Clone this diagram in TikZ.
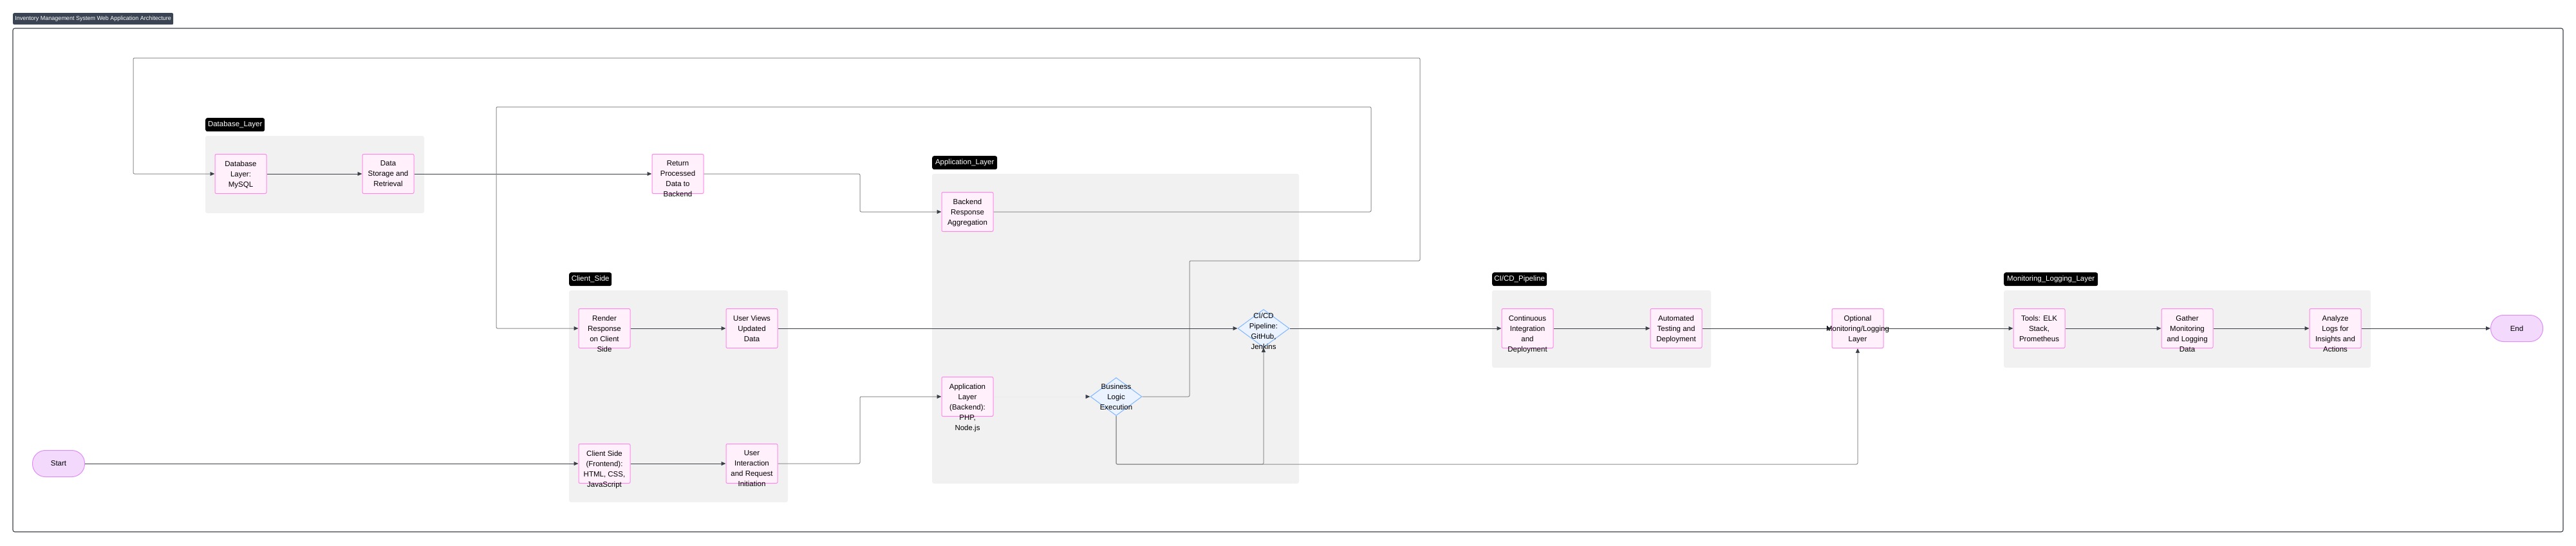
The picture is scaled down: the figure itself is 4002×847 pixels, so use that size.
\documentclass[tikz,border=0pt]{standalone}
\usepackage{fontspec}
\setmainfont{Liberation Sans}
\usetikzlibrary{shapes.geometric,arrows.meta}
\definecolor{nodefill}{HTML}{FFF0FB}
\definecolor{nodedraw}{HTML}{FF85E8}
\definecolor{diafill}{HTML}{EAF3FF}
\definecolor{diadraw}{HTML}{80B6FF}
\definecolor{termfill}{HTML}{F3D9FC}
\definecolor{termdraw}{HTML}{DE8CF6}
\definecolor{clusterbg}{HTML}{F1F1F1}
\definecolor{titlefill}{HTML}{3B4452}
\definecolor{framedraw}{HTML}{3B4048}
\definecolor{edgedark}{HTML}{3B4048}
\definecolor{edgegray}{HTML}{8C8C8C}
\definecolor{edgefaint}{HTML}{EBEBEB}
\begin{document}
\begin{tikzpicture}[x=1pt,y=-1pt,
  box/.style={draw=nodedraw, fill=nodefill, line width=1pt, rounded corners=2pt,
    minimum width=80pt, minimum height=61pt, inner sep=0pt},
  txt/.style={font=\fontsize{11.5}{16}\selectfont, align=center, inner sep=0pt, anchor=north, text=black},
  dia/.style={diamond, draw=diadraw, fill=diafill, line width=1pt,
    minimum width=80pt, minimum height=59pt, inner sep=0pt},
  term/.style={draw=termdraw, fill=termfill, line width=1pt, rounded corners=20pt,
    minimum width=81pt, minimum height=41pt, inner sep=0pt, font=\fontsize{11.5}{14}\selectfont},
  clbg/.style={fill=clusterbg, rounded corners=3pt},
  cllab/.style={fill=black, text=white, rounded corners=3pt, font=\fontsize{11.5}{13}\selectfont,
    anchor=north west, minimum height=21pt, inner sep=0pt},
  edge/.style={draw=edgedark, line width=1pt, -{Triangle[length=7pt,width=6pt,color=edgedark]}},
  routed/.style={edge, draw=edgegray, line width=1pt, rounded corners=2pt},
  faint/.style={edge, draw=edgefaint}
]
\useasboundingbox (0,0) rectangle (4002,847);

% title and frame
\node[fill=titlefill, text=white, rounded corners=2pt, font=\fontsize{9}{11}\selectfont,
  minimum width=249pt, minimum height=18pt, inner sep=0pt, anchor=north west] (title) at (20,20)
  {Inventory Management System Web Application Architecture};
\draw[draw=framedraw, line width=1.1pt, rounded corners=3pt] (20,44) rectangle (3982,826);

% cluster backgrounds
\fill[clbg] (319,211) rectangle (659,331);
\fill[clbg] (884,451) rectangle (1224,780);
\fill[clbg] (1448,270) rectangle (2018,751);
\fill[clbg] (2318,451) rectangle (2658,571);
\fill[clbg] (3113,451) rectangle (3683,571);

% cluster labels
\node[cllab, minimum width=92pt] (dbl) at (319,183) {Database\_Layer};
\node[cllab, minimum width=66pt] (csl) at (884,423) {Client\_Side};
\node[cllab, minimum width=101pt] (appl) at (1448,242) {Application\_Layer};
\node[cllab, minimum width=85pt] (cicdl) at (2318,423) {CI/CD\_Pipeline};
\node[cllab, minimum width=146pt] (monl) at (3113,423) {Monitoring\_Logging\_Layer};

% node shapes
\node[term] (start) at (91,720) {Start};
\node[term] (end) at (3910,510) {End};
\node[box] (db) at (374,270) {};
\node[box] (ds) at (603,270) {};
\node[box] (rp) at (1053,270) {};
\node[box] (bra) at (1503,329) {};
\node[box] (rr) at (939,510) {};
\node[box] (uv) at (1168,510) {};
\node[box] (csf) at (939,720) {};
\node[box] (ui) at (1168,720) {};
\node[box] (alb) at (1503,616) {};
\node[dia] (bl) at (1734,616) {};
\node[dia] (cicd) at (1963,510) {};
\node[box] (ci) at (2373,510) {};
\node[box] (at) at (2604,510) {};
\node[box] (oml) at (2886,510) {};
\node[box] (tools) at (3168,510) {};
\node[box] (gather) at (3398,510) {};
\node[box] (analyze) at (3628,510) {};

% edges
\draw[edge] (start) -- (csf);
\draw[edge] (csf) -- (ui);
\draw[routed] (ui.east) -- (1336,720) |- (alb.west);
\draw[faint] (alb.east) -- (bl.west);
\draw[routed] (bl.east) -| (1848,405) -| (2206,90) -| (207,270) -- (db.west);
\draw[edge] (db) -- (ds);
\draw[edge] (ds) -- (rp);
\draw[routed] (rp.east) -- (1336,270) |- (bra.west);
\draw[routed] (bra.east) -| (2130,166) -| (771,510) -- (rr.west);
\draw[edge] (rr) -- (uv);
\draw[edge] (uv.east) -- (cicd.west);
\draw[routed] (bl.south) -- (1734,721) -| (cicd.south);
\draw[routed] (bl.south) -- (1734,721) -| (oml.south);
\draw[edge] (cicd.east) -- (ci.west);
\draw[edge] (ci) -- (at);
\draw[edge] (at) -- (oml);
\draw[edge] (oml) -- (tools);
\draw[edge] (tools) -- (gather);
\draw[edge] (gather) -- (analyze);
\draw[edge] (analyze) -- (end);

% node texts
\node[txt] (db-t) at ([yshift=20.5pt]db.center) {Database\\Layer:\\MySQL};
\node[txt] (ds-t) at ([yshift=20.5pt]ds.center) {Data\\Storage and\\Retrieval};
\node[txt] (rp-t) at ([yshift=20.5pt]rp.center) {Return\\Processed\\Data to\\Backend};
\node[txt] (bra-t) at ([yshift=20.5pt]bra.center) {Backend\\Response\\Aggregation};
\node[txt] (rr-t) at ([yshift=20.5pt]rr.center) {Render\\Response\\on Client\\Side};
\node[txt] (uv-t) at ([yshift=20.5pt]uv.center) {User Views\\Updated\\Data};
\node[txt] (csf-t) at ([yshift=20.5pt]csf.center) {Client Side\\(Frontend):\\HTML, CSS,\\JavaScript};
\node[txt] (ui-t) at ([yshift=20.5pt]ui.center) {User\\Interaction\\and Request\\Initiation};
\node[txt] (alb-t) at ([yshift=20.5pt]alb.center) {Application\\Layer\\(Backend):\\PHP,\\Node.js};
\node[txt] (bl-t) at ([yshift=20.5pt]bl.center) {Business\\Logic\\Execution};
\node[txt] (cicd-t) at ([yshift=24.5pt]cicd.center) {CI/CD\\Pipeline:\\GitHub,\\Jenkins};
\node[txt] (ci-t) at ([yshift=20.5pt]ci.center) {Continuous\\Integration\\and\\Deployment};
\node[txt] (at-t) at ([yshift=20.5pt]at.center) {Automated\\Testing and\\Deployment};
\node[txt] (oml-t) at ([yshift=20.5pt]oml.center) {Optional\\Monitoring/Logging\\Layer};
\node[txt] (tools-t) at ([yshift=20.5pt]tools.center) {Tools: ELK\\Stack,\\Prometheus};
\node[txt] (gather-t) at ([yshift=20.5pt]gather.center) {Gather\\Monitoring\\and Logging\\Data};
\node[txt] (analyze-t) at ([yshift=20.5pt]analyze.center) {Analyze\\Logs for\\Insights and\\Actions};
\end{tikzpicture}
\end{document}
